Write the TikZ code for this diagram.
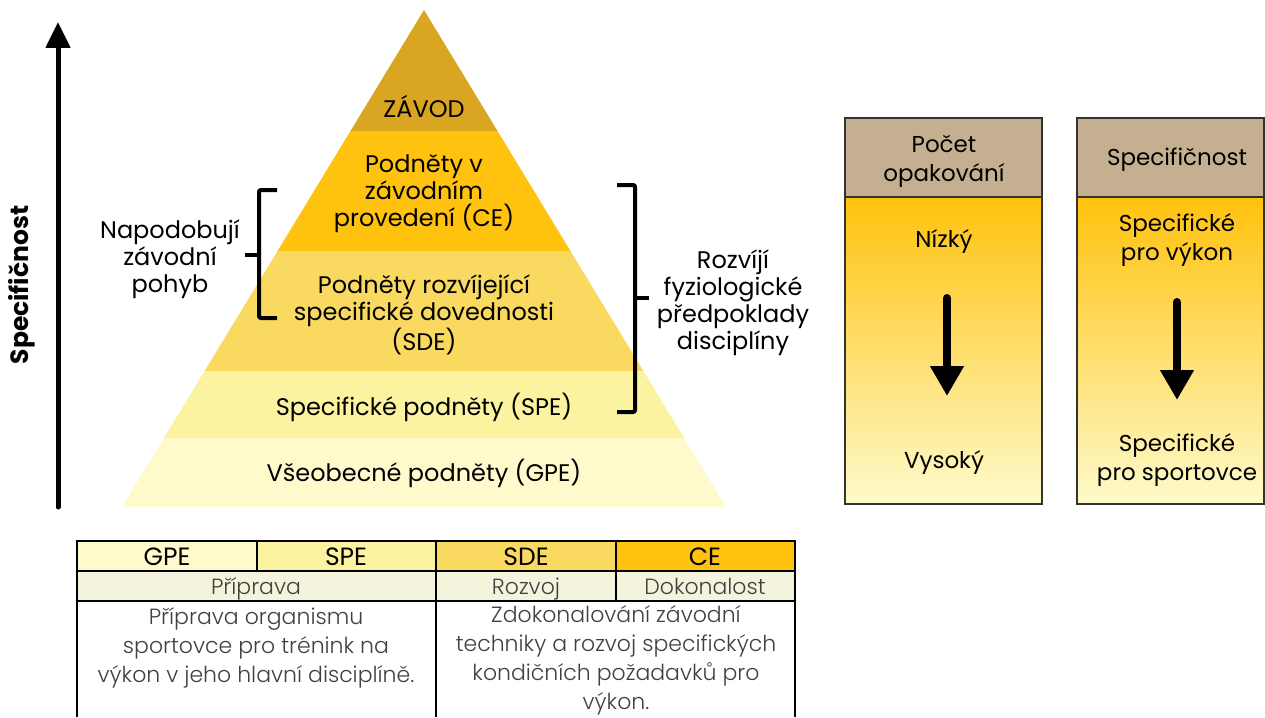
\documentclass[tikz,border=0pt]{standalone}
\usepackage{fontspec}
\setmainfont{Poppins}
\newfontfamily\thinfont{Poppins Light}
\usetikzlibrary{arrows.meta}
\definecolor{cZ}{HTML}{DAA520}
\definecolor{cCE}{HTML}{FFC20E}
\definecolor{cSDE}{HTML}{F9D95F}
\definecolor{cSPE}{HTML}{FBF3A0}
\definecolor{cGPE}{HTML}{FEFACB}
\definecolor{cTan}{HTML}{C4B091}
\definecolor{cRow}{HTML}{F4F3DC}
\definecolor{cGray}{HTML}{404040}
\definecolor{cBox}{HTML}{333333}
\begin{document}
\begin{tikzpicture}[x=1pt,y=-1pt,
  lbl/.style={font=\fontsize{24}{27}\selectfont, align=center, inner sep=0pt},
  blbl/.style={font=\fontsize{23}{29}\selectfont, align=center, inner sep=0pt},
  tlbl/.style={font=\thinfont\fontsize{22}{29}\selectfont, text=cGray, align=center, inner sep=0pt},
  hlbl/.style={font=\fontsize{25}{27}\selectfont, inner sep=0pt, anchor=base},
  brace/.style={line width=4pt, rounded corners=2pt},
  bigarrow/.style={line width=8pt, line cap=round, -{Triangle[width=32pt,length=30pt]}},
  boxline/.style={draw=cBox, line width=1.2pt},
  tline/.style={line width=1.5pt}]
\useasboundingbox (0,0) rectangle (1265,717);

% pyramid
\begin{scope}
\clip (424,10) -- (726,507) -- (122,507) -- cycle;
\fill[cZ] (100,0) rectangle (750,131);
\fill[cCE] (100,131) rectangle (750,251);
\fill[cSDE] (100,251) rectangle (750,371);
\fill[cSPE] (100,371) rectangle (750,438);
\fill[cGPE] (100,438) rectangle (750,507);
\end{scope}
\node[lbl] (zavod) at (424,106) {ZÁVOD};
\node[lbl] (ce) at (424,194) {Podněty v\\závodním\\provedení (CE)};
\node[lbl] (sde) at (424,315) {Podněty rozvíjející\\specifické dovednosti\\(SDE)};
\node[lbl] (spe) at (424,407) {Specifické podněty (SPE)};
\node[lbl] (gpe) at (424,473) {Všeobecné podněty (GPE)};

% left arrow
\coordinate (la0) at (58,507);
\coordinate (la1) at (58,22);
\draw[line width=5pt, line cap=round, -{Triangle[width=24pt,length=26pt]}] (la0) -- (la1);
\node[font=\bfseries\fontsize{25}{27}\selectfont, rotate=90, inner sep=0pt] (spec) at (22,285) {Specifičnost};

% braces
\draw[brace] (277,190) -- (259,190) -- (259,318) -- (277,318);
\draw[line width=4pt] (259,255) -- (245,255);
\node[lbl] (napo) at (170,259) {Napodobují\\závodní\\pohyb};
\draw[brace] (617,185) -- (635,185) -- (635,412) -- (617,412);
\draw[line width=4pt] (635,298) -- (649,298);
\node[lbl] (rozv) at (733,303) {Rozvíjí\\fyziologické\\předpoklady\\disciplíny};

% right boxes
\shade[top color=cCE, bottom color=cGPE] (845,197) rectangle (1042,504);
\fill[cTan] (845,118) rectangle (1042,197);
\draw[boxline] (845,118) rectangle (1042,504);
\draw[boxline] (845,197) -- (1042,197);
\node[blbl] (pocet) at (944,161) {Počet\\opakování};
\node[blbl] (nizky) at (944,241) {Nízký};
\node[blbl] (vysoky) at (944,462) {Vysoký};
\coordinate (a1s) at (947,298);
\coordinate (a1e) at (947,396);
\draw[bigarrow] (a1s) -- (a1e);

\shade[top color=cCE, bottom color=cGPE] (1077,197) rectangle (1264,504);
\fill[cTan] (1077,118) rectangle (1264,197);
\draw[boxline] (1077,118) rectangle (1264,504);
\draw[boxline] (1077,197) -- (1264,197);
\node[blbl] (spec2) at (1177,160) {Specifičnost};
\node[blbl] (spv) at (1177,240) {Specifické\\pro výkon};
\node[blbl] (sps) at (1177,460) {Specifické\\pro sportovce};
\coordinate (a2s) at (1177,302);
\coordinate (a2e) at (1177,400);
\draw[bigarrow] (a2s) -- (a2e);

% table
\fill[cGPE] (77,541) rectangle (257,571);
\fill[cSPE] (257,541) rectangle (436,571);
\fill[cSDE] (436,541) rectangle (616,571);
\fill[cCE] (616,541) rectangle (795,571);
\fill[cRow] (77,571) rectangle (795,601);
\draw[tline] (77,717) -- (77,541) -- (795,541) -- (795,717);
\draw[tline] (77,571) -- (795,571);
\draw[tline] (77,601) -- (795,601);
\draw[tline] (436,541) -- (436,717);
\draw[tline] (257,541) -- (257,571);
\draw[tline] (616,541) -- (616,601);
\node[hlbl] (tg) at (167,565) {GPE};
\node[hlbl] (ts) at (346,565) {SPE};
\node[hlbl] (td) at (526,565) {SDE};
\node[hlbl] (tc) at (705,565) {CE};
\node[tlbl, anchor=base] (tpr) at (256,594) {Příprava};
\node[tlbl, anchor=base] (tro) at (526,594) {Rozvoj};
\node[tlbl, anchor=base] (tdo) at (705,594) {Dokonalost};
\node[tlbl] (tl) at (256,648) {Příprava organismu\\sportovce pro trénink na\\výkon v jeho hlavní disciplíně.};
\node[tlbl] (tr) at (616,660) {Zdokonalování závodní\\techniky a rozvoj specifických\\kondičních požadavků pro\\výkon.};
\end{tikzpicture}
\end{document}
